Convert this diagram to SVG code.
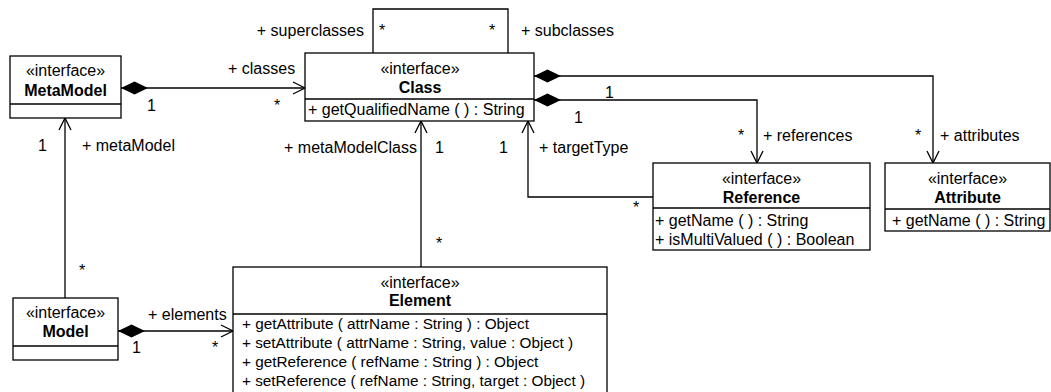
<svg xmlns="http://www.w3.org/2000/svg" width="1051" height="392" viewBox="0 0 1051 392">
<style>
text{font-family:"Liberation Sans",Arial,sans-serif;font-size:16px;fill:#000}
.c{text-anchor:middle}
.b{font-weight:bold}
.e{text-anchor:end}
.m{font-size:15.3px}
.box{fill:#fff;stroke:#000;stroke-width:1.3}
.ln{fill:none;stroke:#000;stroke-width:1.3}
</style>
<defs>
<marker id="arr" markerUnits="userSpaceOnUse" markerWidth="14" markerHeight="14" refX="12" refY="6" orient="auto" overflow="visible">
<path d="M0,0 L12,6 L0,12" fill="none" stroke="#000" stroke-width="1.3"/>
</marker>
<marker id="dia" markerUnits="userSpaceOnUse" markerWidth="28" markerHeight="14" refX="0" refY="6.5" orient="auto" overflow="visible">
<path d="M0,6.5 L13.5,0 L27,6.5 L13.5,13 Z" fill="#000"/>
</marker>
</defs>
<g id="connectors">
<path class="ln" d="M121,88 H305" marker-start="url(#dia)" marker-end="url(#arr)"/>
<path class="ln" d="M373,53 V9 H508 V53"/>
<path class="ln" d="M534,76 H933 V163" marker-start="url(#dia)" marker-end="url(#arr)"/>
<path class="ln" d="M534,100 H757 V163" marker-start="url(#dia)" marker-end="url(#arr)"/>
<path class="ln" d="M653,197 H528 V121" marker-end="url(#arr)"/>
<path class="ln" d="M421,267 V121" marker-end="url(#arr)"/>
<path class="ln" d="M65,298 V118" marker-end="url(#arr)"/>
<path class="ln" d="M118,331 H233" marker-start="url(#dia)" marker-end="url(#arr)"/>
<text x="228" y="74">+ classes</text>
<text x="147" y="111">1</text>
<text x="274" y="111">*</text>
<text class="e" x="364" y="36">+ superclasses</text>
<text x="379" y="36">*</text>
<text x="489" y="36">*</text>
<text x="521" y="36">+ subclasses</text>
<text x="605" y="98">1</text>
<text x="574" y="123">1</text>
<text x="738" y="141">*</text>
<text x="763" y="141">+ references</text>
<text x="915" y="141">*</text>
<text x="940" y="141">+ attributes</text>
<text x="539" y="153">+ targetType</text>
<text x="499" y="153">1</text>
<text x="633" y="213">*</text>
<text class="e" x="417" y="153">+ metaModelClass</text>
<text x="435" y="153">1</text>
<text x="436" y="249">*</text>
<text x="38" y="151">1</text>
<text x="82" y="151">+ metaModel</text>
<text x="79" y="276">*</text>
<text x="148" y="320">+ elements</text>
<text x="132" y="353">1</text>
<text x="212" y="353">*</text>
</g>
<g id="MetaModel">
<rect class="box" x="10" y="56" width="111" height="62"/>
<path class="ln" d="M10,104 H121"/>
<text class="c" x="65.5" y="76">«interface»</text>
<text class="c b" x="65.5" y="96">MetaModel</text>
</g>
<g id="Class">
<rect class="box" x="305" y="53" width="229" height="68"/>
<path class="ln" d="M305,99 H534"/>
<text class="c" x="420" y="74">«interface»</text>
<text class="c b" x="420" y="93">Class</text>
<text x="308" y="115">+ getQualifiedName ( ) : String</text>
</g>
<g id="Reference">
<rect class="box" x="653" y="163" width="217" height="87"/>
<path class="ln" d="M653,208 H870"/>
<text class="c" x="761.5" y="184">«interface»</text>
<text class="c b" x="761.5" y="203">Reference</text>
<text x="655" y="226">+ getName ( ) : String</text>
<text x="655" y="245">+ isMultiValued ( ) : Boolean</text>
</g>
<g id="Attribute">
<rect class="box" x="885" y="163" width="165" height="68"/>
<path class="ln" d="M885,209 H1050"/>
<text class="c" x="967.5" y="184">«interface»</text>
<text class="c b" x="967.5" y="203">Attribute</text>
<text x="892" y="226">+ getName ( ) : String</text>
</g>
<g id="Model">
<rect class="box" x="13" y="298" width="105" height="62"/>
<path class="ln" d="M13,346 H118"/>
<text class="c" x="65.5" y="318">«interface»</text>
<text class="c b" x="65.5" y="337">Model</text>
</g>
<g id="Element">
<rect class="box" x="233" y="267" width="374" height="140"/>
<path class="ln" d="M233,314 H607"/>
<text class="c" x="420" y="288">«interface»</text>
<text class="c b" x="420" y="306">Element</text>
<text class="m" x="242" y="329">+ getAttribute ( attrName : String ) : Object</text>
<text class="m" x="242" y="348">+ setAttribute ( attrName : String, value : Object )</text>
<text class="m" x="242" y="367">+ getReference ( refName : String ) : Object</text>
<text class="m" x="242" y="386">+ setReference ( refName : String, target : Object )</text>
</g>
</svg>
